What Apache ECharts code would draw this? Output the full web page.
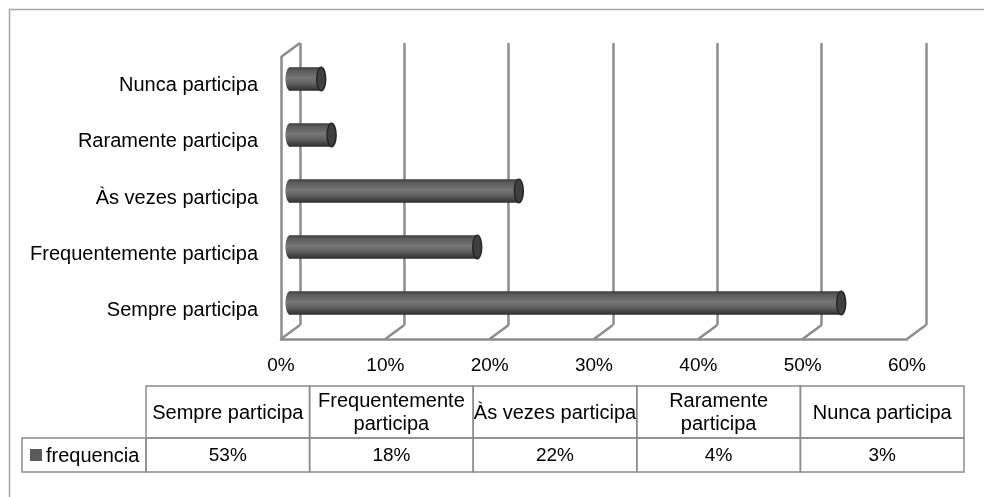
<!DOCTYPE html>
<html>
<head>
<meta charset="utf-8">
<script src="https://cdn.jsdelivr.net/npm/echarts@6/dist/echarts.min.js"></script>
<style>
  html, body { margin: 0; padding: 0; background: #fff; }
  #chart { width: 984px; height: 497px; }
</style>
</head>
<body>
<div id="chart"></div>
<script>
// Data
const categories = ['Sempre participa', 'Frequentemente participa', 'Às vezes participa', 'Raramente participa', 'Nunca participa'];
const tableHeaders = ['Sempre participa', 'Frequentemente\nparticipa', 'Às vezes participa', 'Raramente\nparticipa', 'Nunca participa'];
const frequencia = [53, 18, 22, 4, 3];
const seriesName = 'frequencia';
const xTicks = [0, 10, 20, 30, 40, 50, 60];

// Layout
const FONT = 'Liberation Sans, Arial, sans-serif';
const FS = 20;
const FS_NUM = 19;
const GRID_COLOR = '#8c8c8c';
const DEPTH = { dx: 19, dy: 14 };
const back = { left: 300, top: 43, width: 626, height: 282 };
const front = { left: back.left - DEPTH.dx, top: back.top + DEPTH.dy, width: 626, height: 282 };
const mid = { left: 290, top: 51, width: 624, height: 280 };
const table = { left: 146, top: 386, headH: 52, rowH: 34, colW: 163.6, legendLeft: 22 };

const chart = echarts.init(document.getElementById('chart'), null, { renderer: 'canvas' });

// 3D frame connectors: floor diagonals for each tick and the top-left wall edge
function renderFrame(params, api) {
  const v = api.value(0);
  const cs = params.coordSys;
  const x = api.coord([v, 0])[0];
  const bottom = cs.y + cs.height;
  const style = { stroke: GRID_COLOR, lineWidth: 2.5 };
  const children = [{
    type: 'line',
    shape: { x1: x, y1: bottom, x2: x - DEPTH.dx, y2: bottom + DEPTH.dy },
    style: style
  }];
  if (v === xTicks[0]) {
    children.push({
      type: 'line',
      shape: { x1: x, y1: cs.y, x2: x - DEPTH.dx, y2: cs.y + DEPTH.dy },
      style: style
    });
  }
  return { type: 'group', children: children };
}

// Cylinder-shaped horizontal bars
function renderCylinder(params, api) {
  const idx = api.value(0);
  const val = api.value(1);
  const start = api.coord([0, idx]);
  const end = api.coord([val, idx]);
  const h = api.size([0, 1])[1] * 0.42;
  const y = start[1] - h / 2;
  const rx = 4.5;
  const grad = new echarts.graphic.LinearGradient(0, 0, 0, 1, [
    { offset: 0, color: '#3a3a3a' },
    { offset: 0.12, color: '#585858' },
    { offset: 0.45, color: '#777777' },
    { offset: 0.7, color: '#606060' },
    { offset: 0.9, color: '#3e3e3e' },
    { offset: 1, color: '#2a2a2a' }
  ]);
  return {
    type: 'group',
    children: [
      { type: 'ellipse', shape: { cx: start[0], cy: start[1], rx: rx, ry: h / 2 }, style: { fill: grad } },
      { type: 'rect', shape: { x: start[0], y: y, width: Math.max(0, end[0] - start[0]), height: h }, style: { fill: grad } },
      { type: 'ellipse', shape: { cx: end[0], cy: end[1], rx: rx, ry: h / 2 },
        style: { fill: '#404040', stroke: '#262626', lineWidth: 1.5 } }
    ]
  };
}

// Data table under the plot
function buildTable() {
  const els = [];
  const lineStyle = { fill: 'transparent', stroke: GRID_COLOR, lineWidth: 1.5 };
  const headText = { fill: '#000', font: FS + 'px ' + FONT, align: 'center', verticalAlign: 'middle', lineHeight: 23 };
  const numText = { fill: '#000', font: FS_NUM + 'px ' + FONT, align: 'center', verticalAlign: 'middle' };
  tableHeaders.forEach((hdr, i) => {
    const x = table.left + i * table.colW;
    els.push({ type: 'rect', shape: { x: x, y: table.top, width: table.colW, height: table.headH }, style: lineStyle, silent: true });
    els.push({ type: 'rect', shape: { x: x, y: table.top + table.headH, width: table.colW, height: table.rowH }, style: lineStyle, silent: true });
    els.push({ type: 'text', x: x + table.colW / 2, y: table.top + table.headH / 2 + 1, style: Object.assign({ text: hdr }, headText) });
    els.push({ type: 'text', x: x + table.colW / 2, y: table.top + table.headH + table.rowH / 2 + 1, style: Object.assign({ text: frequencia[i] + '%' }, numText) });
  });
  const ly = table.top + table.headH;
  els.push({ type: 'rect', shape: { x: table.legendLeft, y: ly, width: table.left - table.legendLeft, height: table.rowH }, style: lineStyle, silent: true });
  els.push({ type: 'rect', shape: { x: table.legendLeft + 8, y: ly + table.rowH / 2 - 6, width: 12, height: 12 }, style: { fill: '#5a5a5a' } });
  els.push({ type: 'text', x: table.legendLeft + 24, y: ly + table.rowH / 2 + 1,
    style: { text: seriesName, fill: '#000', font: FS + 'px ' + FONT, align: 'left', verticalAlign: 'middle' } });
  // chart area border
  els.push({ type: 'rect', shape: { x: 9.5, y: 9.5, width: 1000, height: 520 }, style: { fill: 'transparent', stroke: '#a6a6a6', lineWidth: 1.5 }, silent: true, z: -1 });
  return els;
}

const option = {
  animation: false,
  backgroundColor: '#fff',
  textStyle: { fontFamily: FONT },
  grid: [
    Object.assign({ containLabel: false }, back),
    Object.assign({ containLabel: false }, front),
    Object.assign({ containLabel: false }, mid)
  ],
  xAxis: [
    { gridIndex: 0, type: 'value', min: 0, max: 60, interval: 10,
      axisLine: { show: false }, axisTick: { show: false }, axisLabel: { show: false },
      splitLine: { show: true, lineStyle: { color: GRID_COLOR, width: 2.5 } } },
    { gridIndex: 1, type: 'value', min: 0, max: 60, interval: 10,
      axisLine: { show: true, lineStyle: { color: GRID_COLOR, width: 2.5 } },
      axisTick: { show: false }, splitLine: { show: false },
      axisLabel: { formatter: '{value}%', color: '#000', fontSize: FS_NUM, fontFamily: FONT, margin: 17 } },
    { gridIndex: 2, type: 'value', min: 0, max: 60, interval: 10, show: false }
  ],
  yAxis: [
    { gridIndex: 0, type: 'category', data: categories, show: false },
    { gridIndex: 1, type: 'category', data: categories,
      axisLine: { show: true, lineStyle: { color: GRID_COLOR, width: 2.5 } },
      axisTick: { show: false }, splitLine: { show: false },
      axisLabel: { color: '#000', fontSize: FS, fontFamily: FONT, margin: 23 } },
    { gridIndex: 2, type: 'category', data: categories, show: false }
  ],
  series: [
    { type: 'custom', name: 'frame', xAxisIndex: 0, yAxisIndex: 0, silent: true,
      renderItem: renderFrame, data: xTicks.map(v => [v, 0]), z: 1 },
    { type: 'custom', name: seriesName, xAxisIndex: 2, yAxisIndex: 2,
      renderItem: renderCylinder,
      encode: { x: 1, y: 0 },
      data: frequencia.map((v, i) => [i, v]), z: 5 }
  ],
  graphic: buildTable()
};

chart.setOption(option);
</script>
</body>
</html>
